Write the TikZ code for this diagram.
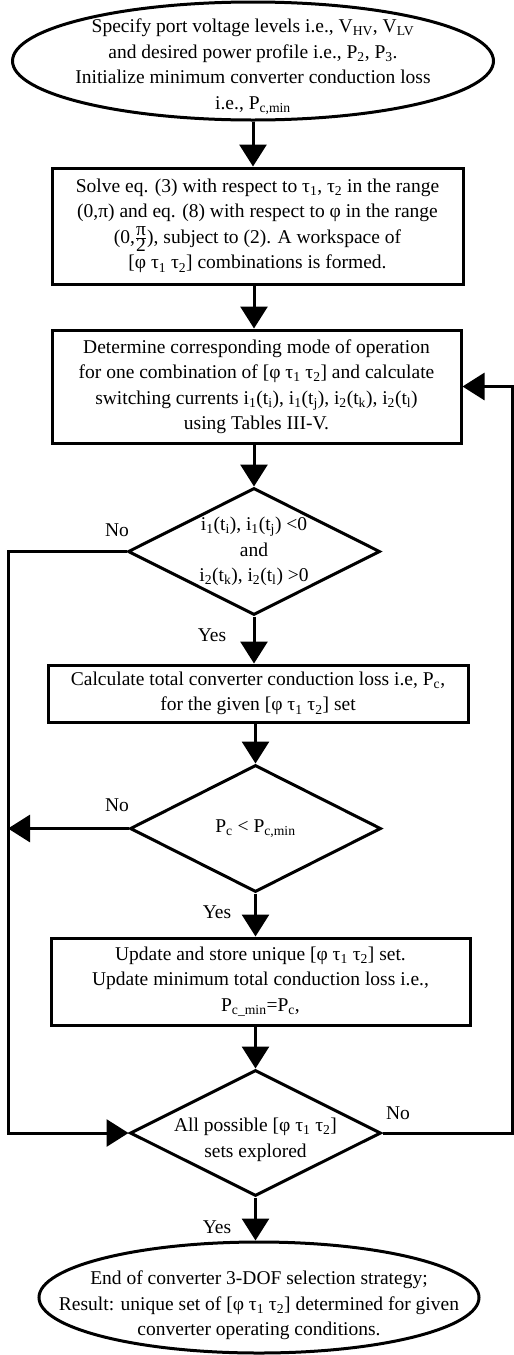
\documentclass[tikz,border=0pt]{standalone}
\usepackage{fontspec}
\setmainfont{Liberation Serif}
\usetikzlibrary{shapes.geometric,arrows.meta}

\newcommand{\phitau}{[φ τ\textsubscript{1} τ\textsubscript{2}]}
\newcommand{\isw}[2]{i\textsubscript{#1}(t\textsubscript{#2})}

\tikzset{
  txt/.style={font=\fontsize{19.5pt}{25.5pt}\selectfont, align=center},
  term/.style={txt, draw, ellipse, line width=3pt, inner xsep=-85pt, inner ysep=-20pt},
  proc/.style={txt, draw, rectangle, line width=3pt, inner sep=0pt},
  decide/.style={txt, draw, diamond, aspect=2, line width=3pt, inner sep=-12pt},
  lbl/.style={font=\fontsize{19.5pt}{25.5pt}\selectfont, inner sep=0pt},
  line/.style={line width=3pt},
  flow/.style={line, -{Triangle[length=22pt,width=27pt]}}
}

\begin{document}
\begin{tikzpicture}[x=1pt,y=-1pt]
  \useasboundingbox (0,0) rectangle (514,1355);

  % shapes
  \node[term, minimum width=481pt, minimum height=118pt] (start) at (253,61)
    {\rule{0pt}{25pt}Specify port voltage levels i.e., V\textsubscript{HV}, V\textsubscript{LV}\\
     and desired power profile i.e., P\textsubscript{2}, P\textsubscript{3}.\\
     Initialize minimum converter conduction loss\\
     i.e., P\textsubscript{c,min}};
  \node[proc, minimum width=411pt, minimum height=116pt] (solve) at (257.5,226)
    {Solve eq. (3) with respect to τ\textsubscript{1}, τ\textsubscript{2} in the range\\
     (0,π) and eq. (8) with respect to φ in the range\\
     (0,\smash{$\frac{\mbox{π}}{\mbox{2}}$}), subject to (2). A workspace of\\
     \phitau{} combinations is formed.};
  \node[proc, minimum width=409pt, minimum height=113pt] (mode) at (256.5,386.5)
    {Determine corresponding mode of operation\\
     for one combination of \phitau{} and calculate\\
     switching currents \isw{1}{i}, \isw{1}{j}, \isw{2}{k}, \isw{2}{l}\\
     using Tables III-V.};
  \node[decide, minimum width=252pt, minimum height=127pt] (d1) at (254,551.5)
    {\isw{1}{i}, \isw{1}{j} <0\\ and\\ \isw{2}{k}, \isw{2}{l} >0};
  \node[proc, minimum width=420pt, minimum height=57pt] (loss) at (258,693.5)
    {Calculate total converter conduction loss i.e, P\textsubscript{c},\\
     for the given \phitau{} set};
  \node[decide, minimum width=251pt, minimum height=127pt] (d2) at (255.5,828.5)
    {P\textsubscript{c} < P\textsubscript{c,min}};
  \node[proc, minimum width=419pt, minimum height=87pt] (update) at (260.5,981.5)
    {Update and store unique \phitau{} set.\\
     Update minimum total conduction loss i.e.,\\
     P\textsubscript{c\_min}=P\textsubscript{c},};
  \node[decide, minimum width=251pt, minimum height=126pt] (d3) at (255.5,1133)
    {\rule{0pt}{27pt}All possible \phitau{}\\ sets explored};
  \node[term, minimum width=440pt, minimum height=111pt] (finish) at (259,1297.5)
    {\rule{0pt}{30pt}End of converter 3-DOF selection strategy;\\
     Result: unique set of \phitau{} determined for given\\
     converter operating conditions.};

  % branch labels
  \node[lbl] (no1) at (117,530) {No};
  \node[lbl] (yes1) at (212,635) {Yes};
  \node[lbl] (no2) at (117,805) {No};
  \node[lbl] (yes2) at (217,912) {Yes};
  \node[lbl] (no3) at (398,1113) {No};
  \node[lbl] (yes3) at (217,1227) {Yes};

  % main flow
  \draw[flow] (start.south) -- (start.south |- solve.north);
  \draw[flow] (solve.south -| d1.north) -- (mode.north -| d1.north);
  \draw[flow] (mode.south -| d1.north) -- (d1.north);
  \draw[flow] (d1.south) -- (d1.south |- loss.north);
  \draw[flow] (loss.south -| d2.north) -- (d2.north);
  \draw[flow] (d2.south) -- (d2.south |- update.north);
  \draw[flow] (update.south -| d3.north) -- (d3.north);
  \draw[flow] (d3.south) -- (d3.south |- finish.north);

  % loops
  \coordinate (lane) at (8,0);
  \coordinate (back) at (512.5,0);
  \draw[flow] (d1.west) -- (d1.west -| lane) -- (d3.west -| lane) -- (d3.west);
  \draw[flow] (d2.west) -- (d2.west -| lane);
  \draw[flow] (d3.east) -- (d3.east -| back) -- (mode.east -| back) -- (mode.east);
\end{tikzpicture}
\end{document}
